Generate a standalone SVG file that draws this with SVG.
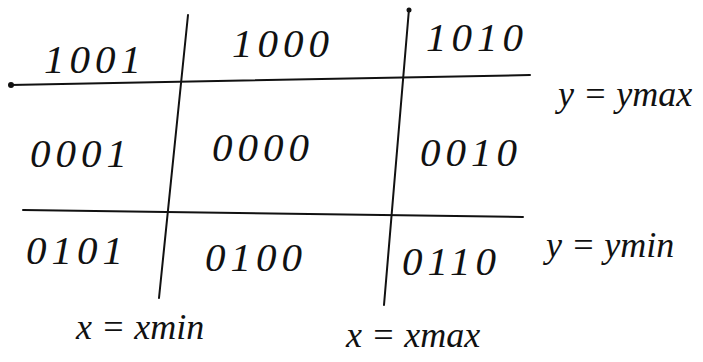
<svg xmlns="http://www.w3.org/2000/svg" width="703" height="362" viewBox="0 0 703 362">
<style>
  .ln { stroke: #111; stroke-width: 2; fill: none; stroke-linecap: round; }
  .code { font-family: "Liberation Serif", serif; font-style: italic; font-size: 41px; fill: #111; letter-spacing: 5px; }
  .lbl { font-family: "Liberation Serif", serif; font-style: italic; font-size: 36px; fill: #111; }
</style>
<rect width="703" height="362" fill="#fff"/>
<g id="connectors">
  <line class="ln" x1="10" y1="85" x2="530" y2="75"/>
  <line class="ln" x1="23" y1="210" x2="523" y2="217"/>
  <line class="ln" x1="188" y1="15" x2="159" y2="298"/>
  <line class="ln" x1="409" y1="9" x2="384" y2="305"/>
  <circle cx="11" cy="85" r="3" fill="#111"/>
  <circle cx="409" cy="10" r="2.5" fill="#111"/>
</g>
<g id="r1001"><text class="code" x="44" y="73">1001</text></g>
<g id="r1000"><text class="code" x="232" y="57">1000</text></g>
<g id="r1010"><text class="code" x="426" y="51">1010</text></g>
<g id="r0001"><text class="code" x="30" y="167">0001</text></g>
<g id="r0000"><text class="code" x="212" y="161">0000</text></g>
<g id="r0010"><text class="code" x="420" y="166">0010</text></g>
<g id="r0101"><text class="code" x="26" y="264">0101</text></g>
<g id="r0100"><text class="code" x="205" y="271">0100</text></g>
<g id="r0110"><text class="code" x="402" y="275">0110</text></g>
<g id="ymax"><text class="lbl" x="558" y="106">y = ymax</text></g>
<g id="ymin"><text class="lbl" x="546" y="257">y = ymin</text></g>
<g id="xmin"><text class="lbl" x="76" y="339">x = xmin</text></g>
<g id="xmax"><text class="lbl" x="346" y="347">x = xmax</text></g>
</svg>
